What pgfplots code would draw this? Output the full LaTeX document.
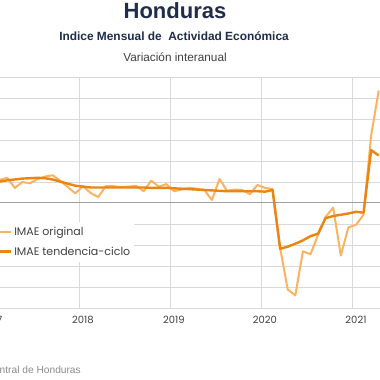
\documentclass[border=0pt]{standalone}
\usepackage{pgfplots}
\pgfplotsset{compat=1.18}
\usepackage{fontspec}
\setmainfont{Liberation Sans}
\newfontfamily\poppins{Poppins}
\definecolor{orig}{RGB}{252,178,96}
\definecolor{tend}{RGB}{236,132,16}
\definecolor{navy}{RGB}{31,45,75}
\definecolor{gridc}{RGB}{217,217,217}
\definecolor{zeroc}{RGB}{160,160,160}
\definecolor{txt}{RGB}{64,64,64}
\definecolor{srcc}{RGB}{140,140,140}

\pgfplotstableread{
t v
0 4.5
1 5.5
2 6.0
3 3.6
4 5.0
5 4.7
6 5.7
7 6.3
8 6.6
9 5.3
10 3.8
11 2.3
12 4.0
13 2.4
14 1.4
15 4.0
16 4.0
17 3.8
18 3.9
19 4.1
20 2.8
21 5.3
22 3.9
23 4.5
24 2.8
25 3.2
26 3.6
27 3.4
28 3.1
29 0.7
30 5.7
31 2.9
32 3.2
33 3.1
34 2.1
35 4.3
36 3.6
37 3.3
38 -10.7
39 -20.6
40 -22.0
41 -11.5
42 -12.2
43 -7.6
44 -3.3
45 -1.1
46 -12.5
47 -5.8
48 -5.2
49 -2.8
50 16.1
51 26.8
}\original

\pgfplotstableread{
t v
0 4.9
1 5.1
2 5.4
3 5.6
4 5.8
5 5.9
6 6.0
7 5.9
8 5.6
9 5.1
10 4.6
11 4.1
12 3.9
13 3.7
14 3.7
15 3.7
16 3.7
17 3.7
18 3.7
19 3.7
20 3.7
21 3.6
22 3.6
23 3.6
24 3.5
25 3.4
26 3.3
27 3.2
28 3.1
29 3.0
30 2.9
31 2.8
32 2.8
33 2.8
34 2.8
35 2.8
36 2.7
37 3.1
38 -10.9
39 -10.4
40 -9.7
41 -8.9
42 -7.9
43 -7.3
44 -3.6
45 -3.1
46 -2.8
47 -2.5
48 -2.1
49 -2.3
50 12.6
51 11.3
}\tendencia

\begin{document}
\begin{tikzpicture}
\useasboundingbox (0,0) rectangle (380pt,380pt);
\fill[white] (0,0) rectangle (380pt,380pt);
\clip (0,0) rectangle (380pt,380pt);
\node[anchor=base, font=\bfseries\fontsize{22}{26}\selectfont, text=navy, inner sep=0pt] at (175pt,361pt) {Honduras};
\node[anchor=base, font=\bfseries\fontsize{11.9}{14}\selectfont, text=navy, inner sep=0pt] at (174pt,339.3pt) {Indice Mensual de\ \ Actividad Económica};
\node[anchor=base, font=\fontsize{11.8}{14}\selectfont, text=txt, inner sep=0pt] at (175pt,318.3pt) {Variación interanual};
\node[anchor=base east, font=\fontsize{10.2}{12}\selectfont, text=srcc, inner sep=0pt] at (81pt,6pt) {Fuente: Banco Central de Honduras};
\begin{axis}[
  at={(-15.6pt,72pt)}, anchor=south west,
  scale only axis, width=401.9pt, height=231pt,
  xmin=-1, xmax=52, ymin=-25, ymax=30,
  axis line style={draw=none},
  major tick length=0pt,
  xtick={0,12,24,36,48}, xticklabels={2017,2018,2019,2020,2021},
  xticklabel style={font=\poppins\fontsize{10}{12}\selectfont, text=txt, yshift=-4.5pt},
  ytick={-25,-20,-15,-10,-5,5,10,15,20,25,30}, yticklabels={},
  ymajorgrids, grid style={gridc, line width=0.8pt},
  extra x ticks={-0.5,11.5,23.5,35.5,47.5}, extra x tick labels={},
  extra x tick style={grid=major},
  extra y ticks={0}, extra y tick labels={},
  extra y tick style={grid=major, major grid style={zeroc, line width=1pt}},
  legend style={at={(0.014,0.372)}, anchor=north west, draw=none, fill=white,
    font=\poppins\fontsize{11}{12.5}\selectfont, text=txt, inner xsep=2pt, inner ysep=3pt,
    row sep=5.5pt},
  legend cell align=left,
  legend image code/.code={\draw[#1] (-0.3cm,0cm) -- (0.32cm,0cm);},
]
\addplot[orig, line width=2pt, line join=round] table[x=t, y=v] {\original};
\addlegendentry{IMAE original}
\addplot[tend, line width=2.4pt, line join=round] table[x=t, y=v] {\tendencia};
\addlegendentry{IMAE tendencia-ciclo}
\end{axis}
\end{tikzpicture}
\end{document}
